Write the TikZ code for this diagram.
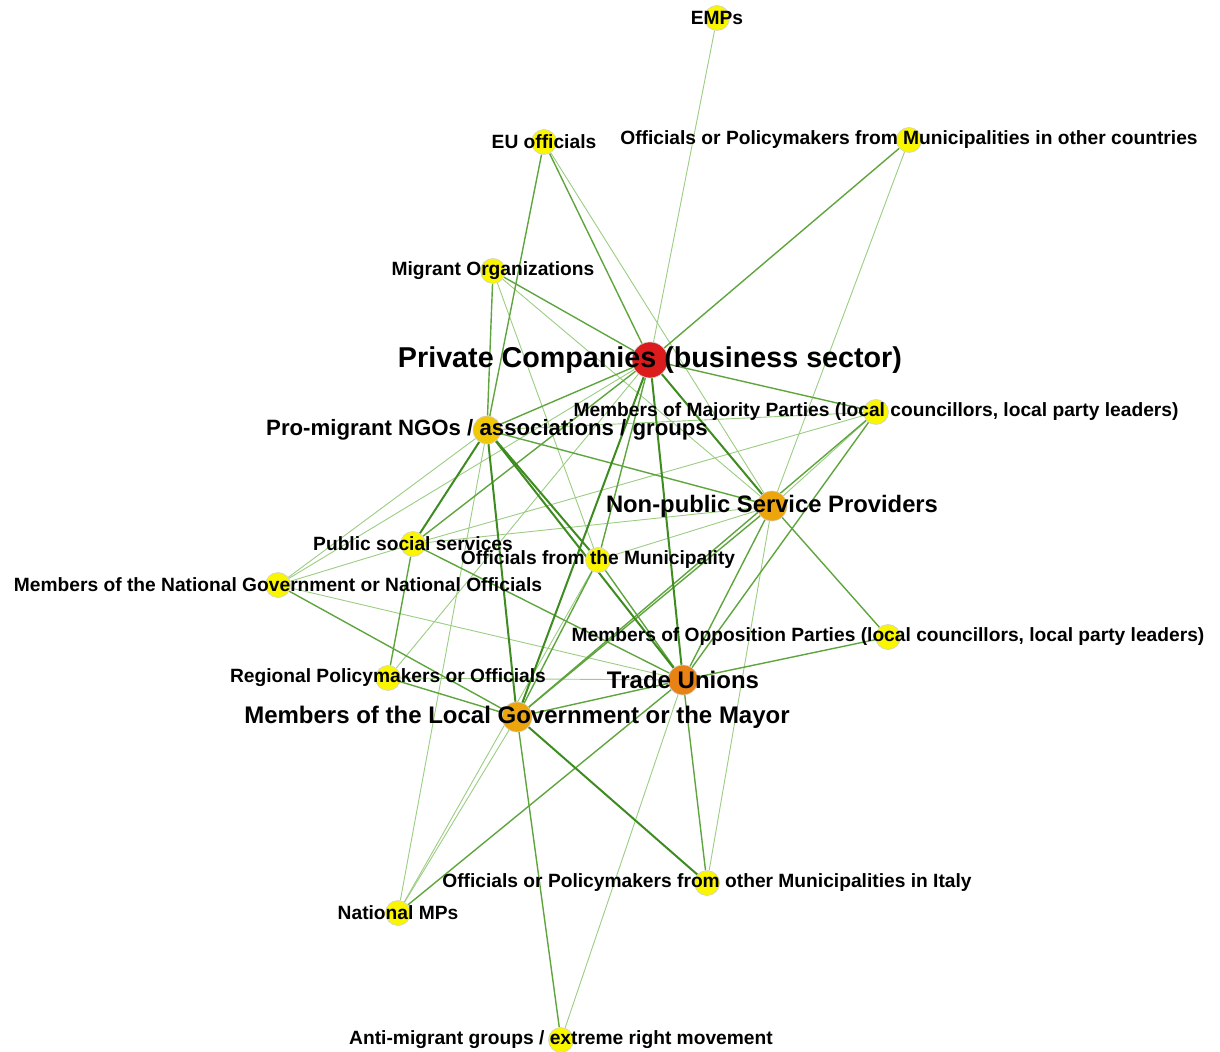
\documentclass[tikz,border=0pt]{standalone}
\usepackage{fontspec}
\setmainfont{Liberation Sans}
\usetikzlibrary{backgrounds}
\definecolor{edgedark}{RGB}{62,140,32}
\definecolor{edgemid}{RGB}{95,165,62}
\definecolor{edgelight}{RGB}{155,205,130}
\definecolor{nyellow}{RGB}{250,245,0}
\definecolor{nred}{RGB}{220,28,28}
\definecolor{norange}{RGB}{232,130,20}
\definecolor{namber}{RGB}{236,165,12}
\definecolor{ngold}{RGB}{240,200,8}

\begin{document}
\begin{tikzpicture}[x=0.5pt, y=-0.5pt,
    actor/.style={circle, draw=black!18, line width=0.3pt, inner sep=0pt, minimum size=#1},
    lab/.style={font=\bfseries\fontsize{9.6}{10}\selectfont, inner sep=0pt},
    biglab/.style={font=\bfseries\fontsize{#1}{#1}\selectfont, inner sep=0pt},
    weak/.style={draw=edgelight, line width=0.45pt},
    tie/.style={draw=edgemid, line width=0.7pt},
    strong/.style={draw=edgedark, line width=1pt}]
    \useasboundingbox (0,0) rectangle (1220,1052);

    \node[actor=12.5pt, fill=nyellow] (emp) at (717,18) {};
    \node[actor=12.5pt, fill=nyellow] (eu) at (544,142) {};
    \node[actor=12.5pt, fill=nyellow] (oc) at (909,140) {};
    \node[actor=12.5pt, fill=nyellow] (mo) at (493,271) {};
    \node[actor=18pt, fill=nred] (pc) at (650,360) {};
    \node[actor=14pt, fill=ngold] (ngo) at (487,430) {};
    \node[actor=12.5pt, fill=nyellow] (maj) at (876,412) {};
    \node[actor=15pt, fill=namber] (nps) at (772,506) {};
    \node[actor=12.5pt, fill=nyellow] (pss) at (413,544) {};
    \node[actor=12.5pt, fill=nyellow] (om) at (598,560) {};
    \node[actor=12.5pt, fill=nyellow] (ng) at (278,585) {};
    \node[actor=12.5pt, fill=nyellow] (opp) at (888,637) {};
    \node[actor=15pt, fill=norange] (tu) at (683,680) {};
    \node[actor=12.5pt, fill=nyellow] (reg) at (388,678) {};
    \node[actor=15pt, fill=namber] (lg) at (517,717) {};
    \node[actor=12.5pt, fill=nyellow] (oi) at (707,883) {};
    \node[actor=12.5pt, fill=nyellow] (mp) at (398,913) {};
    \node[actor=12.5pt, fill=nyellow] (am) at (561,1040) {};

    \begin{scope}[on background layer]
        \foreach \a/\b in {pc/emp, pc/ng, pc/reg, eu/nps, oc/nps, mo/nps, mo/om, ngo/maj,
            ngo/ng, ngo/mp, nps/maj, nps/om, nps/pss, nps/oi, tu/ng, tu/reg, tu/am,
            lg/mp, om/mp, pss/ng, maj/pss}
            \draw[weak] (\a) -- (\b);
        \foreach \a/\b in {pc/eu, pc/oc, pc/mo, pc/ngo, pc/maj, pc/om, pc/pss, eu/ngo,
            mo/ngo, ngo/nps, nps/opp, nps/tu, nps/lg, tu/opp, tu/lg, tu/om, tu/pss,
            tu/oi, tu/mp, tu/maj, lg/reg, lg/ng, lg/om, lg/am, lg/maj, pss/reg}
            \draw[tie] (\a) -- (\b);
        \foreach \a/\b in {pc/nps, pc/tu, pc/lg, ngo/pss, ngo/om, ngo/tu, ngo/lg, lg/oi}
            \draw[strong] (\a) -- (\b);
    \end{scope}

    % labels
    \node[lab] (emp-l) at (emp) {EMPs};
    \node[lab] (eu-l) at (eu) {EU officials};
    \node[lab] (oc-l) at (oc) {Officials or Policymakers from Municipalities in other countries};
    \node[lab] (mo-l) at (mo) {Migrant Organizations};
    \node[biglab=14.35] (pc-l) at (pc) {Private Companies (business sector)};
    \node[biglab=11.1] (ngo-l) at (ngo) {Pro-migrant NGOs / associations / groups};
    \node[lab] (maj-l) at (maj) {Members of Majority Parties (local councillors, local party leaders)};
    \node[biglab=11.9] (nps-l) at (nps) {Non-public Service Providers};
    \node[lab] (pss-l) at (pss) {Public social services};
    \node[lab] (om-l) at (om) {Officials from the Municipality};
    \node[lab] (ng-l) at (ng) {Members of the National Government or National Officials};
    \node[lab] (opp-l) at (opp) {Members of Opposition Parties (local councillors, local party leaders)};
    \node[biglab=12] (tu-l) at (tu) {Trade Unions};
    \node[lab] (reg-l) at (reg) {Regional Policymakers or Officials};
    \node[biglab=12] (lg-l) at (lg) {Members of the Local Government or the Mayor};
    \node[lab] (oi-l) at (oi) {Officials or Policymakers from other Municipalities in Italy};
    \node[lab] (mp-l) at (mp) {National MPs};
    \node[lab] (am-l) at (am) {Anti-migrant groups / extreme right movement};
\end{tikzpicture}
\end{document}
